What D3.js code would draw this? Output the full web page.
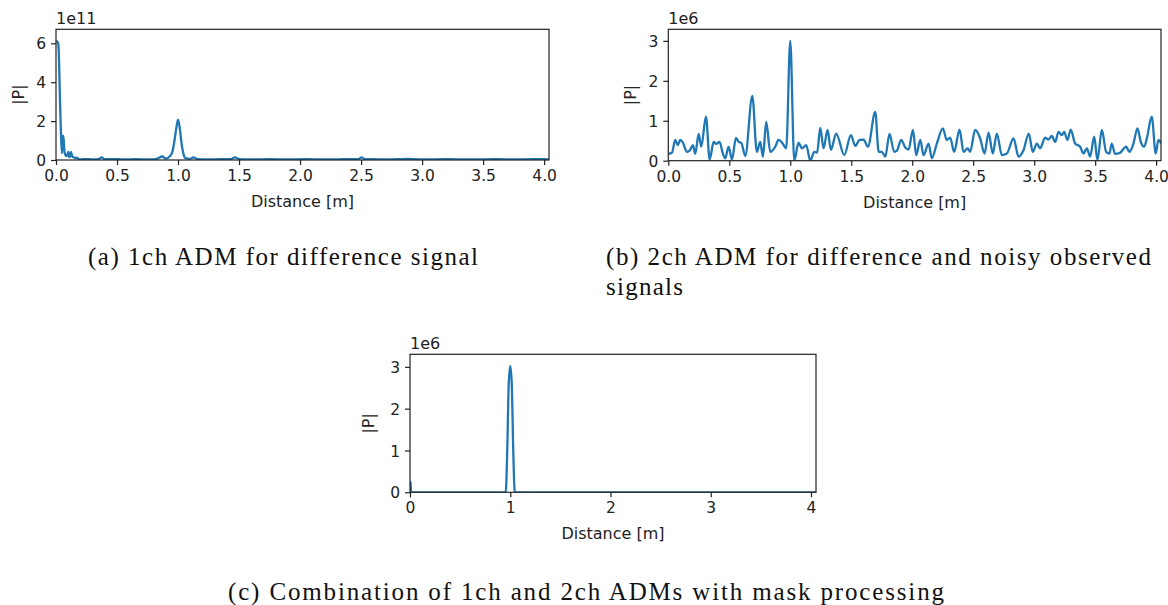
<!DOCTYPE html>
<html>
<head>
<meta charset="utf-8">
<script src="https://cdn.jsdelivr.net/npm/d3@7"></script>
<style>
	body { margin: 0; background: #fff; }
	svg { display: block; }
	.tick text { font-family: "DejaVu Sans", sans-serif; font-size: 15.5px; fill: #222; }
	.lbl { font-family: "DejaVu Sans", sans-serif; font-size: 16px; fill: #222; }
	.cap { font-family: "Liberation Serif", serif; font-size: 25px; fill: #111; }
</style>
</head>
<body>
<svg id="fig"></svg>
<script>

var w = 1168;
var h = 605;

// (a) 1ch ADM, |P| in units of 1e11
var aDist = [0, 0.01, 0.02, 0.033, 0.041, 0.049, 0.055, 0.062, 0.07, 0.078, 0.087, 0.095, 0.101, 0.108,
	0.115, 0.123, 0.132, 0.142, 0.155, 0.17, 0.185, 0.2, 0.25, 0.3, 0.35, 0.374, 0.4, 0.47, 0.55, 0.65,
	0.75, 0.82, 0.872, 0.9, 0.934, 0.955, 0.967, 0.985, 1.0, 1.015, 1.03, 1.045, 1.06, 1.1, 1.125, 1.16,
	1.25, 1.35, 1.44, 1.467, 1.5, 1.6, 1.75, 1.9, 2.05, 2.2, 2.35, 2.48, 2.505, 2.53, 2.7, 2.88, 3.0,
	3.2, 3.4, 3.6, 3.8, 4.0, 4.04];
var aMag = [6.07, 6.1, 5.9, 3.0, 1.29, 0.35, 1.25, 1.1, 0.4, 0.25, 0.2, 0.3, 0.42, 0.15,
	0.18, 0.42, 0.2, 0.15, 0.1, 0.12, 0.05, 0.03, 0.05, 0.03, 0.05, 0.14, 0.04, 0.05, 0.03, 0.04,
	0.03, 0.05, 0.18, 0.07, 0.2, 0.45, 0.85, 1.6, 2.08, 1.6, 0.8, 0.3, 0.1, 0.06, 0.14, 0.05,
	0.03, 0.04, 0.06, 0.14, 0.05, 0.03, 0.04, 0.03, 0.04, 0.03, 0.04, 0.05, 0.14, 0.04, 0.03, 0.06, 0.03,
	0.04, 0.03, 0.04, 0.03, 0.04, 0.03];

// (b) 2ch ADM, |P| in units of 1e6
var bDist = [0, 0.03, 0.057, 0.077, 0.098, 0.12, 0.153, 0.175, 0.202, 0.221, 0.249, 0.27, 0.309, 0.339,
	0.372, 0.393, 0.42, 0.448, 0.467, 0.494, 0.522, 0.555, 0.577, 0.598, 0.631, 0.689, 0.726, 0.754,
	0.776, 0.803, 0.836, 0.877, 0.904, 0.94, 0.967, 1.0, 1.033, 1.068, 1.096, 1.131, 1.164, 1.197,
	1.22, 1.246, 1.273, 1.306, 1.333, 1.377, 1.443, 1.497, 1.533, 1.568, 1.601, 1.637, 1.697, 1.725,
	1.751, 1.779, 1.814, 1.852, 1.874, 1.91, 1.943, 1.97, 2.006, 2.033, 2.066, 2.093, 2.134, 2.161,
	2.202, 2.251, 2.284, 2.311, 2.344, 2.388, 2.421, 2.454, 2.475, 2.516, 2.557, 2.593, 2.626, 2.661,
	2.694, 2.735, 2.776, 2.831, 2.872, 2.913, 2.956, 2.989, 3.022, 3.049, 3.09, 3.117, 3.145, 3.172,
	3.2, 3.227, 3.246, 3.273, 3.3, 3.336, 3.377, 3.404, 3.432, 3.459, 3.492, 3.519, 3.555, 3.59,
	3.617, 3.636, 3.664, 3.705, 3.754, 3.781, 3.814, 3.847, 3.874, 3.902, 3.924, 3.964, 3.997, 4.019, 4.041];
var bMag = [0.17, 0.2, 0.52, 0.39, 0.52, 0.45, 0.22, 0.25, 0.39, 0.17, 0.67, 0.35, 1.1, 0.03,
	0.47, 0.42, 0.47, 0.17, 0.06, 0.35, 0.03, 0.57, 0.47, 0.45, 0.12, 1.62, 0.22, 0.47,
	0.1, 0.97, 0.22, 0.35, 0.52, 0.42, 0.31, 3.0, 0.0, 0.45, 0.31, 0.39, 0.0, 0.22,
	0.2, 0.82, 0.31, 0.77, 0.27, 0.68, 0.14, 0.64, 0.37, 0.52, 0.53, 0.35, 1.22, 0.22,
	0.22, 0.1, 0.67, 0.22, 0.25, 0.52, 0.33, 0.28, 0.77, 0.14, 0.52, 0.14, 0.43, 0.06,
	0.43, 0.81, 0.52, 0.58, 0.22, 0.78, 0.22, 0.31, 0.22, 0.77, 0.56, 0.18, 0.7, 0.18,
	0.68, 0.14, 0.18, 0.56, 0.1, 0.27, 0.68, 0.22, 0.43, 0.31, 0.58, 0.53, 0.62, 0.47,
	0.72, 0.64, 0.72, 0.52, 0.78, 0.43, 0.35, 0.18, 0.31, 0.1, 0.6, 0.02, 0.77, 0.22,
	0.18, 0.43, 0.17, 0.2, 0.35, 0.22, 0.43, 0.81, 0.47, 0.35, 0.56, 1.1, 0.18, 0.52, 0.43];

// (c) combined with mask, |P| in units of 1e6
var cDist = [0, 0.006, 0.01, 0.955, 0.97, 0.985, 1.0, 1.015, 1.03, 1.045, 4.05];
var cMag = [0.25, 0.25, 0, 0, 1.0, 2.6, 3.02, 2.6, 1.0, 0, 0];

var halfTicks = [0, 0.5, 1, 1.5, 2, 2.5, 3, 3.5, 4];
var unitTicks = [0, 1, 2, 3, 4];
var aYTicks = [0, 2, 4, 6];
var bYTicks = [0, 1, 2, 3];

var captionA = '(a) 1ch ADM for difference signal';
var captionB1 = '(b) 2ch ADM for difference and noisy observed';
var captionB2 = 'signals';
var captionC = '(c) Combination of 1ch and 2ch ADMs with mask processing';

var svg = d3.select('#fig').attr('width', w).attr('height', h);

function panel(id, box, xmax, ymax, xticks, xfmt, yticks, offset, xs, ys, ylabX) {

	var x = d3.scaleLinear().domain([0, xmax]).range([box.l, box.r]);
	var y = d3.scaleLinear().domain([0, ymax]).range([box.b, box.t]);
	var g = svg.append('g').attr('id', id);

	g.append('clipPath').attr('id', id + '_clip')
		.append('rect')
		.attr('x', box.l).attr('y', box.t)
		.attr('width', box.r - box.l).attr('height', box.b - box.t);

	var pts = xs.map(function(d, i) { return [d, ys[i]]; });
	var line = d3.line()
		.x(function(d) { return x(d[0]); })
		.y(function(d) { return y(d[1]); })
		.curve(d3.curveMonotoneX);

	g.append('path')
		.datum(pts)
		.attr('d', line)
		.attr('fill', 'none')
		.attr('stroke', '#1f77b4')
		.attr('stroke-width', 2.3)
		.attr('stroke-linejoin', 'round')
		.attr('clip-path', 'url(#' + id + '_clip)');

	var xa = g.append('g')
		.attr('transform', 'translate(0,' + box.b + ')')
		.call(d3.axisBottom(x).tickValues(xticks).tickFormat(xfmt).tickSize(5).tickPadding(5));
	var ya = g.append('g')
		.attr('transform', 'translate(' + box.l + ',0)')
		.call(d3.axisLeft(y).tickValues(yticks).tickFormat(d3.format('d')).tickSize(5).tickPadding(5));

	[xa, ya].forEach(function(a) {
		a.select('.domain').remove();
		a.selectAll('.tick line').attr('stroke', '#222').attr('stroke-width', 1.2);
	});
	ya.selectAll('.tick text').attr('dy', '0.36em');

	g.append('rect')
		.attr('x', box.l).attr('y', box.t)
		.attr('width', box.r - box.l).attr('height', box.b - box.t)
		.attr('fill', 'none')
		.attr('stroke', '#222')
		.attr('stroke-width', 1.2);

	g.append('text').attr('class', 'lbl')
		.attr('x', box.l).attr('y', box.t - 5)
		.text(offset);

	g.append('text').attr('class', 'lbl')
		.attr('x', (box.l + box.r) / 2).attr('y', box.b + 47)
		.attr('text-anchor', 'middle')
		.text('Distance [m]');

	g.append('text').attr('class', 'lbl')
		.attr('transform', 'translate(' + ylabX + ',' + (box.t + box.b) / 2 + ') rotate(-90)')
		.attr('text-anchor', 'middle')
		.text('|P|');
}

panel('pa', {l: 56, r: 549, t: 29.3, b: 160}, 4.04, 6.72, halfTicks, d3.format('.1f'), aYTicks, '1e11', aDist, aMag, 24);
panel('pb', {l: 668.3, r: 1161, t: 29.3, b: 160.7}, 4.04, 3.29, halfTicks, d3.format('.1f'), bYTicks, '1e6', bDist, bMag, 635.5);
panel('pc', {l: 410, r: 816, t: 354.3, b: 492.3}, 4.05, 3.3, unitTicks, d3.format('d'), bYTicks, '1e6', cDist, cMag, 374);

function caption(txt, x, y, len) {
	svg.append('text').attr('class', 'cap')
		.attr('x', x).attr('y', y)
		.attr('textLength', len)
		.attr('lengthAdjust', 'spacing')
		.text(txt);
}

caption(captionA, 88, 265, 390);
caption(captionB1, 606, 265, 545);
caption(captionB2, 606, 295, 77);
caption(captionC, 228, 600, 716);

</script>
</body>
</html>
